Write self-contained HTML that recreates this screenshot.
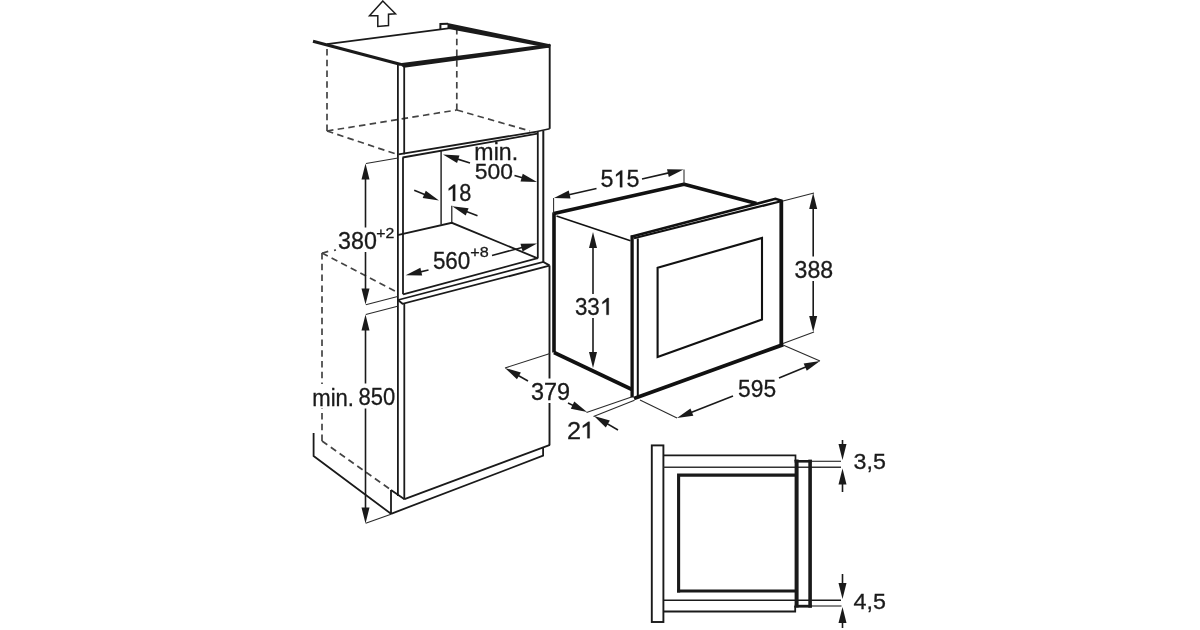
<!DOCTYPE html>
<html><head><meta charset="utf-8"><title>Oven installation diagram</title>
<style>
html,body{margin:0;padding:0;background:#fff;width:1200px;height:630px;overflow:hidden}
svg{display:block;will-change:transform}
text{font-family:"Liberation Sans",sans-serif;fill:#1a1a1a;stroke:#1a1a1a;stroke-width:0.3px}
</style></head>
<body>
<svg width="1200" height="630" viewBox="0 0 1200 630">
<rect width="1200" height="630" fill="#fff"/>

<!-- UP ARROW -->
<path d="M382.8,1 L395.5,13.8 L388.5,14.2 L388.5,25.6 L377.8,26.5 L377.8,15.8 L369.5,15.8 Z" fill="none" stroke="#1a1a1a" stroke-width="1.5" stroke-linejoin="miter"/>

<!-- LEFT COLUMN : dashed hidden lines -->
<g fill="none" stroke="#444" stroke-width="1.7" stroke-dasharray="6.5,4.3">
<path d="M327,131 L327,48"/>
<path d="M327,131 L456.8,110"/>
<path d="M327,131 L396,154"/>
<path d="M456.8,110 L456.8,29"/>
<path d="M456.8,110 L530,131"/>
<path d="M322,253 L322,384"/>
<path d="M322,253 L396,291.5"/>
<path d="M322,253.3 L329,251.2 M334,250.3 L336,250"/>
<path d="M322,441 L390.5,489.5"/>
<path d="M322,441 L322,408"/>
</g>
<!-- LEFT COLUMN : solid cabinet lines -->
<g fill="none" stroke="#1a1a1a" stroke-linecap="butt" stroke-linejoin="miter">
<!-- top board -->
<path d="M313,41.3 L401,64.5" stroke-width="3.2"/>
<path d="M327,44.2 L456,27.4" stroke-width="1.7"/>
<path d="M440.4,30 L440.4,24 L448,23.7" stroke-width="2"/>
<path d="M447.5,23 L551,44.5 L549.5,48 L447.5,28.8 Z" fill="#1a1a1a" stroke="none"/>
<path d="M398,63.4 L550,43.8 L550,47.6 L404,67.8 Z" fill="#1a1a1a" stroke="none"/>
<!-- upper cabinet -->
<path d="M549.7,45 L549.7,128.8" stroke-width="1.9"/>
<path d="M398.5,154.3 L537,131.6" stroke-width="1.8"/>
<path d="M402.5,157.5 L537.5,133.7" stroke-width="1.8"/>
<path d="M537,131.5 L549.7,128.8" stroke-width="1.4"/>
<!-- left outer double vertical -->
<path d="M397.9,65 L397.9,496" stroke-width="1.8"/>
<path d="M404.2,65 L404.2,154.3" stroke-width="1.8"/>
<path d="M403,157.6 L403,294.3" stroke-width="1.8"/>
<path d="M404.3,303.8 L404.3,499.5" stroke-width="1.8"/>
<!-- niche -->
<path d="M441.1,151 L441.1,224.5" stroke-width="1.4"/>
<path d="M451.8,205.8 L451.8,222.8" stroke-width="1.2"/>
<path d="M397.5,235.2 L451.8,222.8 L537.8,258.4" stroke-width="1.8"/>
<path d="M537.8,132 L537.8,258.4" stroke-width="1.8"/>
<path d="M543.3,130.5 L543.3,262" stroke-width="2"/>
<!-- niche floor front (lower cabinet top board) -->
<path d="M403.1,294.3 L537.8,258.2" stroke-width="1.8"/>
<path d="M398,300 L543.3,261.9 L549.5,265.4" stroke-width="1.8"/>
<path d="M398,300 L402.5,303.8 L549.5,265.7" stroke-width="1.8"/>
<!-- lower cabinet -->
<path d="M549.5,265.4 L549.5,378.5 M549.5,403 L549.5,445" stroke-width="1.9"/>
<path d="M404.5,499.2 L550,444.8" stroke-width="1.9"/>
<path d="M391,490 L404.5,499.2" stroke-width="1.8"/>
<path d="M391,490 L391,514" stroke-width="1.8"/>
<path d="M391,513.8 L543.1,455.7 L543.1,447" stroke-width="1.8"/>
<path d="M313.6,433 L313.6,456 L391,513.8" stroke-width="1.8"/>
</g>

<!-- LEFT COLUMN : dimension lines -->
<g fill="none" stroke="#2a2a2a" stroke-width="1.05">
<!-- extension lines -->
<path d="M366,163.6 L398,158"/>
<path d="M365.8,304.8 L397.6,296.6"/>
<path d="M365.8,314.6 L397.6,306.3"/>
<path d="M365.7,523.3 L391,514.3"/>
</g>
<g fill="none" stroke="#1a1a1a" stroke-width="1.6">
<!-- 380 -->
<path d="M365.50,227.50 L365.50,173.10" stroke-width="1.6"/><path d="M365.50,163.50 L369.50,179.50 L361.50,179.50 Z" fill="#1a1a1a" stroke="none"/>
<path d="M365.50,252.00 L365.50,294.90" stroke-width="1.6"/><path d="M365.50,304.50 L361.50,288.50 L369.50,288.50 Z" fill="#1a1a1a" stroke="none"/>
<!-- 850 -->
<path d="M365.50,383.50 L365.50,324.10" stroke-width="1.6"/><path d="M365.50,314.50 L369.50,330.50 L361.50,330.50 Z" fill="#1a1a1a" stroke="none"/>
<path d="M365.50,408.50 L365.50,513.90" stroke-width="1.6"/><path d="M365.50,523.50 L361.50,507.50 L369.50,507.50 Z" fill="#1a1a1a" stroke="none"/>
<!-- min 500 -->
<path d="M470.00,163.00 L452.16,157.38" stroke-width="1.6"/><path d="M443.00,154.50 L459.46,155.49 L457.06,163.12 Z" fill="#1a1a1a" stroke="none"/>
<path d="M514.50,175.50 L527.78,179.34" stroke-width="1.6"/><path d="M537.00,182.00 L520.52,181.40 L522.74,173.72 Z" fill="#1a1a1a" stroke="none"/>
<!-- 18 -->
<path d="M414.20,190.20 L430.13,196.82" stroke-width="1.6"/><path d="M439.00,200.50 L422.69,198.06 L425.76,190.67 Z" fill="#1a1a1a" stroke="none"/>
<path d="M477.50,215.80 L461.18,209.61" stroke-width="1.6"/><path d="M452.20,206.20 L468.58,208.14 L465.74,215.62 Z" fill="#1a1a1a" stroke="none"/>
<!-- 560 -->
<path d="M428.50,270.00 L415.05,273.13" stroke-width="1.6"/><path d="M405.70,275.30 L420.38,267.78 L422.19,275.57 Z" fill="#1a1a1a" stroke="none"/>
<path d="M492.00,255.50 L527.72,245.97" stroke-width="1.6"/><path d="M537.00,243.50 L522.57,251.49 L520.51,243.76 Z" fill="#1a1a1a" stroke="none"/>
</g>

<!-- OVEN -->
<g fill="none" stroke="#111" stroke-linecap="butt" stroke-linejoin="miter">
<path d="M554,352.5 L554,213.5 L684,184.3 L756.5,203.5" stroke-width="3.6" stroke-linejoin="round"/>
<path d="M556.5,216 L630.5,240.8" stroke-width="1.7"/>
<path d="M554,352.5 L632,389.5" stroke-width="3.6"/>
<path d="M632.1,235.5 L632.1,397.5" stroke-width="3.3"/>
<path d="M637.8,238.5 L637.8,397.5" stroke-width="2"/>
<path d="M631,236.8 L775.4,198.8 L782.5,201" stroke-width="2.6"/>
<path d="M634,238.3 L781,201.2" stroke-width="2.2"/>
<path d="M781.3,200.2 L781.3,344.6" stroke-width="3.8"/>
<path d="M634,398.5 L783.2,344.6" stroke-width="3.8"/>
<path d="M657.6,267.7 L762,238 L762,319.6 L657.6,357.1 Z" stroke-width="2.1"/>
</g>
<!-- OVEN dims -->
<g fill="none" stroke="#2a2a2a" stroke-width="1.05">
<path d="M553.6,198 L553.6,214"/>
<path d="M684,169.5 L684,184"/>
<path d="M783,201 L814,193"/>
<path d="M783,343.5 L814,332"/>
<path d="M550,353.6 L505,368"/>
<path d="M586.5,412.5 L631.5,397"/>
<path d="M593.5,416.5 L634.5,400.2"/>
<path d="M783,345 L820,361"/>
<path d="M640,400 L677,418"/>
</g>
<g fill="none" stroke="#1a1a1a" stroke-width="1.6">
<path d="M596.50,188.50 L563.37,195.91" stroke-width="1.6"/><path d="M554.00,198.00 L568.74,190.61 L570.49,198.41 Z" fill="#1a1a1a" stroke="none"/>
<path d="M642.00,179.00 L674.14,171.64" stroke-width="1.6"/><path d="M683.50,169.50 L668.80,176.97 L667.01,169.17 Z" fill="#1a1a1a" stroke="none"/>
<path d="M813.20,256.50 L813.20,202.60" stroke-width="1.6"/><path d="M813.20,193.00 L817.20,209.00 L809.20,209.00 Z" fill="#1a1a1a" stroke="none"/>
<path d="M813.20,281.00 L813.20,322.40" stroke-width="1.6"/><path d="M813.20,332.00 L809.20,316.00 L817.20,316.00 Z" fill="#1a1a1a" stroke="none"/>
<path d="M593.00,294.00 L593.00,241.60" stroke-width="1.6"/><path d="M593.00,232.00 L597.00,248.00 L589.00,248.00 Z" fill="#1a1a1a" stroke="none"/>
<path d="M593.00,318.00 L593.00,358.40" stroke-width="1.6"/><path d="M593.00,368.00 L589.00,352.00 L597.00,352.00 Z" fill="#1a1a1a" stroke="none"/>
<path d="M528.00,381.00 L513.36,372.72" stroke-width="1.6"/><path d="M505.00,368.00 L520.90,372.39 L516.96,379.36 Z" fill="#1a1a1a" stroke="none"/>
<path d="M568.00,403.00 L578.32,407.89" stroke-width="1.6"/><path d="M587.00,412.00 L570.83,408.77 L574.25,401.54 Z" fill="#1a1a1a" stroke="none"/>
<path d="M618.00,430.00 L602.29,420.84" stroke-width="1.6"/><path d="M594.00,416.00 L609.84,420.61 L605.80,427.52 Z" fill="#1a1a1a" stroke="none"/>
<path d="M779.00,378.00 L811.13,364.68" stroke-width="1.6"/><path d="M820.00,361.00 L806.75,370.82 L803.69,363.43 Z" fill="#1a1a1a" stroke="none"/>
<path d="M733.00,396.00 L685.94,414.49" stroke-width="1.6"/><path d="M677.00,418.00 L690.43,408.43 L693.35,415.87 Z" fill="#1a1a1a" stroke="none"/>
</g>
<!-- CROSS SECTION -->
<g fill="none" stroke="#1a1a1a" stroke-linejoin="miter">
<rect x="651.8" y="445.4" width="11.6" height="176.6" stroke-width="1.9"/>
<path d="M663.4,455.4 L795.5,455.4 L795.5,461" stroke-width="1.7"/>
<path d="M663.4,467.2 L841,467.2" stroke-width="1.6" stroke="#333"/>
<path d="M678.6,592.5 L678.6,475.1 L795,475.1" stroke-width="3.1"/>
<path d="M677,591 L795,591" stroke-width="3"/>
<path d="M796.6,459.6 L796.6,607.6" stroke-width="4"/>
<path d="M810.1,459.6 L810.1,607.6" stroke-width="3.6"/>
<path d="M794.6,461.3 L811.9,461.3" stroke-width="2.6"/>
<path d="M794.6,606.2 L811.9,606.2" stroke-width="2.8"/>
<path d="M663.4,600.3 L841,600.3" stroke-width="1.6"/>
<path d="M663.4,611.5 L795.2,611.5 L795.2,606" stroke-width="1.8"/>
<path d="M812,461.3 L841,461.3" stroke-width="1.2" stroke="#333"/>
<path d="M812,606 L841.5,606" stroke-width="1.2" stroke="#333"/>
</g>
<g fill="none" stroke="#1a1a1a" stroke-width="1.6">
<path d="M842.50,440.00 L842.50,450.40" stroke-width="1.6"/><path d="M842.50,460.00 L838.50,444.00 L846.50,444.00 Z" fill="#1a1a1a" stroke="none"/>
<path d="M842.50,492.00 L842.50,478.10" stroke-width="1.6"/><path d="M842.50,468.50 L846.50,484.50 L838.50,484.50 Z" fill="#1a1a1a" stroke="none"/>
<path d="M842.50,574.00 L842.50,589.40" stroke-width="1.6"/><path d="M842.50,599.00 L838.50,583.00 L846.50,583.00 Z" fill="#1a1a1a" stroke="none"/>
<path d="M842.50,628.00 L842.50,616.60" stroke-width="1.6"/><path d="M842.50,607.00 L846.50,623.00 L838.50,623.00 Z" fill="#1a1a1a" stroke="none"/>
</g>
<!-- TEXT -->
<g>
<text x="474.38" y="160.0" font-size="23" textLength="43.68" lengthAdjust="spacingAndGlyphs">min.</text>
<text x="474.68" y="179.37" font-size="22.8" textLength="38.2" lengthAdjust="spacingAndGlyphs">500</text>
<text x="447.17" y="200.96" font-size="23.5" textLength="24.18" lengthAdjust="spacingAndGlyphs"> 8</text><path d="M452.90,201.00 L452.90,188.04 L448.70,190.50 L448.70,188.62 L453.75,184.60 L455.20,184.60 L455.20,201.00 Z" fill="#1a1a1a" stroke="#1a1a1a" stroke-width="0.3"/>
<text x="338.07" y="248.96" font-size="23.5" textLength="38.83" lengthAdjust="spacingAndGlyphs">380</text>
<text x="376.21" y="238.0" font-size="15.2" textLength="18.09" lengthAdjust="spacingAndGlyphs">+2</text>
<text x="432.9" y="269.26" font-size="23.5" textLength="37.46" lengthAdjust="spacingAndGlyphs">560</text>
<text x="470.19" y="257.35" font-size="15.2" textLength="18.46" lengthAdjust="spacingAndGlyphs">+8</text>
<text x="312.25" y="405.5" font-size="23.5" textLength="41.72" lengthAdjust="spacingAndGlyphs">min.</text>
<text x="358.62" y="405.26" font-size="23.5" textLength="36.73" lengthAdjust="spacingAndGlyphs">850</text>
<text x="600.57" y="186.96" font-size="23.5" textLength="38.83" lengthAdjust="spacingAndGlyphs">5 5</text><path d="M619.95,187.20 L619.95,173.93 L616.00,176.45 L616.00,174.52 L620.80,170.40 L622.25,170.40 L622.25,187.20 Z" fill="#1a1a1a" stroke="#1a1a1a" stroke-width="0.3"/>
<text x="794.58" y="277.56" font-size="23.5" textLength="38.55" lengthAdjust="spacingAndGlyphs">388</text>
<text x="574.95" y="314.76" font-size="23.5" textLength="37.25" lengthAdjust="spacingAndGlyphs">33 </text><path d="M606.45,314.80 L606.45,301.53 L602.40,304.05 L602.40,302.12 L607.30,298.00 L608.75,298.00 L608.75,314.80 Z" fill="#1a1a1a" stroke="#1a1a1a" stroke-width="0.3"/>
<text x="531.06" y="399.76" font-size="23.5" textLength="39.07" lengthAdjust="spacingAndGlyphs">379</text>
<text x="567.03" y="438.5" font-size="23.5" textLength="28.08" lengthAdjust="spacingAndGlyphs">2 </text><path d="M587.35,438.20 L587.35,425.24 L582.80,427.70 L582.80,425.82 L588.20,421.80 L589.65,421.80 L589.65,438.20 Z" fill="#1a1a1a" stroke="#1a1a1a" stroke-width="0.3"/>
<text x="738.09" y="396.76" font-size="23.5" textLength="37.99" lengthAdjust="spacingAndGlyphs">595</text>
<text x="853.57" y="469.14" font-size="22" textLength="32.37" lengthAdjust="spacingAndGlyphs">3,5</text>
<text x="853.53" y="608.64" font-size="22" textLength="32.4" lengthAdjust="spacingAndGlyphs">4,5</text>
</g>
</svg>
</body></html>
